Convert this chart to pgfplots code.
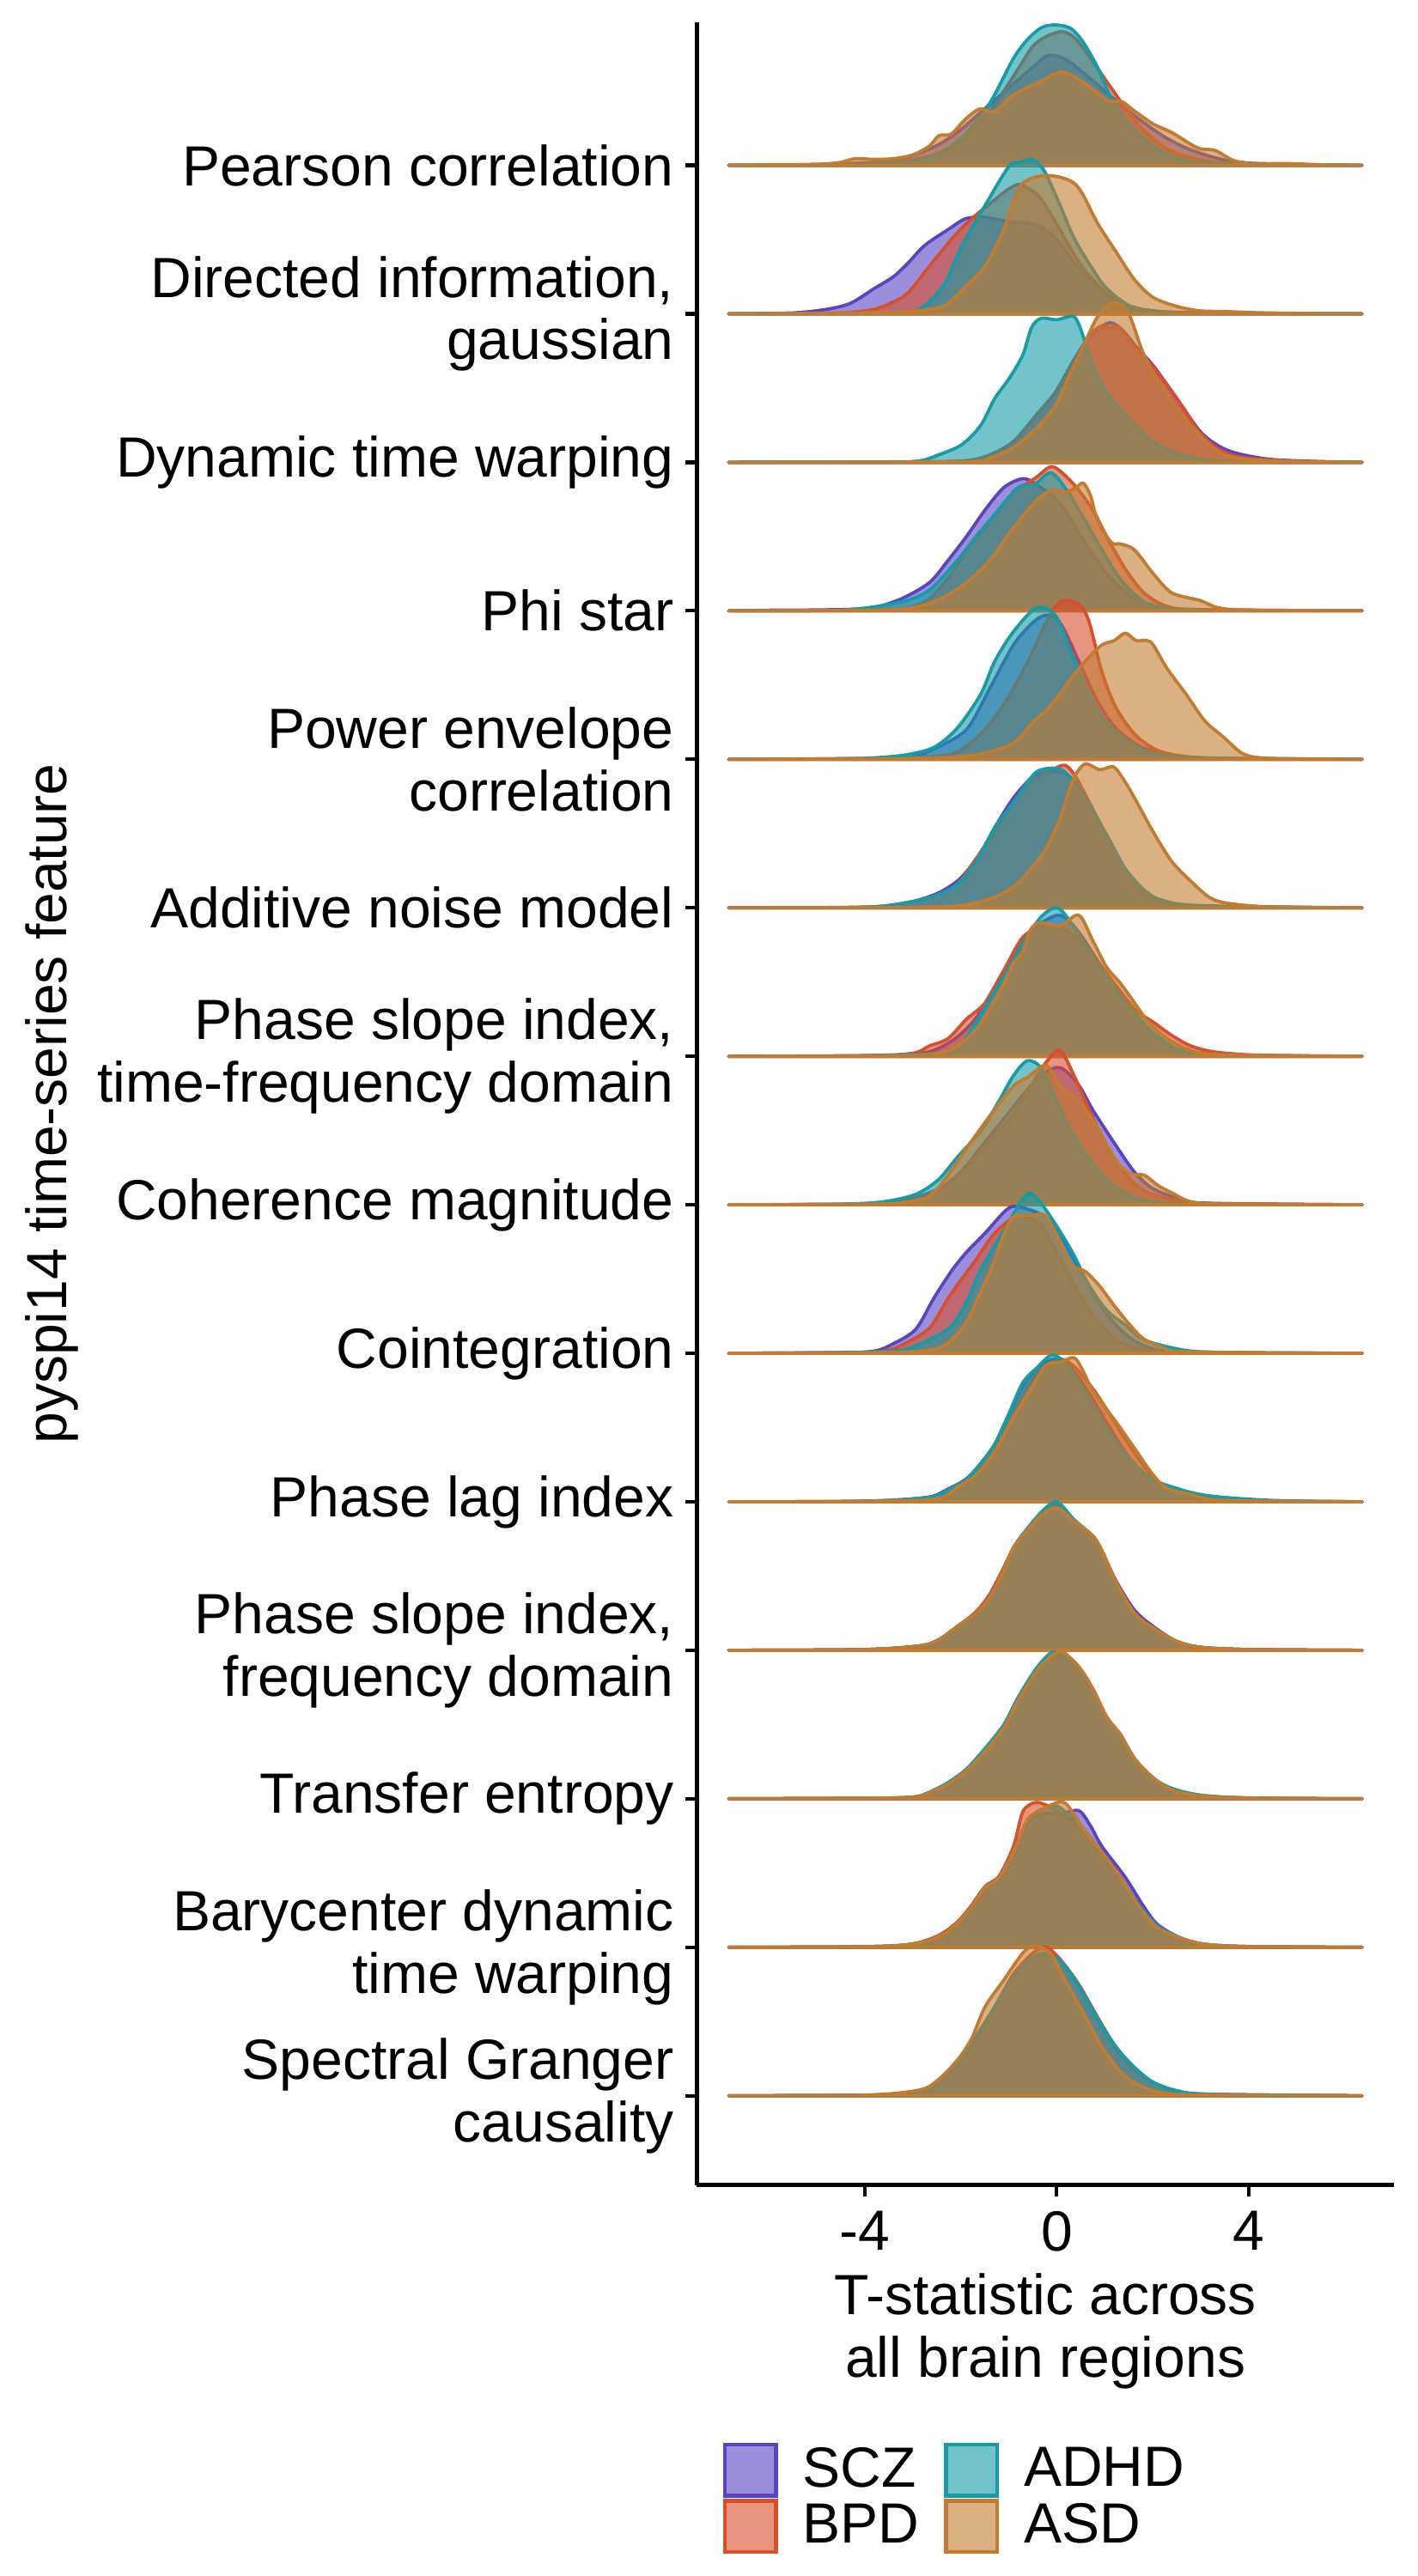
\documentclass[border=0pt]{standalone}
\usepackage{pgfplots}
\pgfplotsset{compat=1.18}
\usepackage{fontspec}
\setmainfont{Liberation Sans}
\definecolor{scz}{RGB}{88,68,197}
\definecolor{bpd}{RGB}{217,78,43}
\definecolor{adhd}{RGB}{20,157,167}
\definecolor{asd}{RGB}{195,123,48}
\newcommand{\lab}{\fontsize{13.2}{14.5}\selectfont}
\pgfplotsset{ridge/.style={draw=#1, fill=#1, fill opacity=0.6, draw opacity=1, line width=0.75pt, line join=round, line cap=round, smooth, tension=0.5, forget plot}}
\newcommand{\R}[3]{\addplot[ridge=#1, y filter/.expression={y+#2}] coordinates {#3} -- cycle;}
\begin{document}
\begin{tikzpicture}
\path[use as bounding box] (-162.3pt,-91.1pt) rectangle (167.7pt,508.9pt);
\begin{axis}[
  at={(0,0)}, anchor=south west,
  scale only axis, width=162.3pt, height=503.6pt,
  xmin=-7.49, xmax=7.02, ymin=0.4, ymax=14.96,
  clip=false,
  axis x line*=bottom, axis y line*=left,
  axis line style={line width=0.85pt, black},
  every tick/.style={black, line width=0.85pt},
  tick align=outside, major tick length=2.6pt,
  xtick={-4,0,4}, xticklabels={-4,0,4},
  ytick={1,2,3,4,5,6,7,8,9,10,11,12,13,14},
  yticklabels={{Spectral Granger\\causality},{Barycenter dynamic\\time warping},{Transfer entropy},{Phase slope index,\\frequency domain},{Phase lag index},{Cointegration},{Coherence magnitude},{Phase slope index,\\time-frequency domain},{Additive noise model},{Power envelope\\correlation},{Phi star},{Dynamic time warping},{Directed information,\\gaussian},{Pearson correlation}},
  yticklabel style={align=right, font=\lab, inner sep=0pt, xshift=-2.6pt},
  xticklabel style={font=\lab, inner sep=0pt, yshift=-3.3pt},
  xlabel={T-statistic across\\all brain regions},
  xlabel style={at={(axis description cs:0.5,-0.0677)}, anchor=center, align=center, font=\lab},
  ylabel={pyspi14 time-series feature},
  ylabel style={at={(axis description cs:-0.925,0.5)}, anchor=center, font=\lab},
  legend columns=2, transpose legend,
  legend style={at={(axis description cs:0.0376,-0.1193)}, anchor=north west, draw=none, fill=none, inner sep=0pt, outer sep=0pt, font=\lab, row sep=0.35pt, nodes={inner sep=0pt}, /tikz/every odd column/.append style={column sep=5.8pt}, /tikz/every even column/.append style={column sep=5.8pt}},
  legend cell align=left,
  legend image code/.code={\draw[#1, line width=0.85pt] (0pt,-5.95pt) rectangle (11.9pt,5.95pt);},
]
% ---------- Row 14: Pearson correlation
\R{scz}{14}{(-6.83,0) (-5.5,0.003) (-4.5,0.01) (-3.8,0.02) (-3.3,0.04) (-2.8,0.09) (-2.4,0.15) (-2.0,0.24) (-1.5,0.38) (-1.0,0.52) (-0.5,0.66) (-0.17,0.74) (0.2,0.71) (0.6,0.61) (1.0,0.50) (1.4,0.39) (1.8,0.29) (2.2,0.2) (2.6,0.13) (3.0,0.08) (3.5,0.035) (4.0,0.015) (4.5,0.01) (5.0,0.006) (5.5,0.003) (6.36,0)}
\R{bpd}{14}{(-6.83,0) (-5,0.003) (-4,0.01) (-3.3,0.025) (-2.8,0.05) (-2.4,0.09) (-1.9,0.19) (-1.4,0.36) (-0.9,0.60) (-0.5,0.80) (-0.2,0.87) (0.12,0.90) (0.4,0.85) (0.75,0.70) (1.05,0.56) (1.4,0.40) (1.8,0.24) (2.3,0.11) (2.8,0.05) (3.5,0.015) (4.5,0.004) (6.36,0)}
\R{adhd}{14}{(-6.83,0) (-5,0.002) (-4.3,0.005) (-3.3,0.02) (-2.85,0.04) (-2.36,0.09) (-1.88,0.22) (-1.39,0.42) (-0.9,0.72) (-0.6,0.85) (-0.3,0.93) (0.0,0.945) (0.3,0.92) (0.55,0.83) (0.85,0.66) (1.14,0.45) (1.5,0.28) (2.0,0.13) (2.5,0.05) (3.0,0.02) (4.0,0.006) (5.0,0.003) (6.36,0)}
\R{asd}{14}{(-6.83,0) (-6.0,0.004) (-5.0,0.006) (-4.5,0.02) (-4.2,0.045) (-3.8,0.04) (-3.4,0.045) (-3.0,0.07) (-2.65,0.13) (-2.45,0.2) (-2.2,0.21) (-1.9,0.31) (-1.6,0.38) (-1.3,0.36) (-1.0,0.45) (-0.7,0.51) (-0.3,0.57) (0.1,0.63) (0.5,0.57) (0.8,0.50) (1.1,0.43) (1.35,0.43) (1.6,0.37) (2.0,0.28) (2.4,0.22) (2.8,0.14) (3.0,0.11) (3.3,0.10) (3.7,0.03) (4.2,0.008) (4.6,0.012) (5.0,0.01) (5.5,0.003) (6.36,0)}
% ---------- Row 13: Directed information
\R{scz}{13}{(-6.83,0) (-5.5,0.006) (-4.8,0.03) (-4.3,0.07) (-3.8,0.17) (-3.4,0.25) (-3.1,0.34) (-2.75,0.46) (-2.25,0.57) (-1.9,0.64) (-1.5,0.65) (-1.0,0.62) (-0.6,0.61) (-0.3,0.58) (0.05,0.48) (0.5,0.29) (1.0,0.14) (1.5,0.05) (2.0,0.02) (3.0,0.005) (6.36,0)}
\R{bpd}{13}{(-6.83,0) (-5,0.003) (-4.3,0.01) (-3.8,0.03) (-3.4,0.08) (-3.1,0.14) (-2.7,0.3) (-2.3,0.46) (-2.0,0.57) (-1.7,0.66) (-1.4,0.74) (-1.0,0.84) (-0.76,0.87) (-0.4,0.80) (-0.1,0.66) (0.2,0.49) (0.5,0.33) (0.9,0.18) (1.3,0.08) (1.8,0.03) (2.5,0.01) (6.36,0)}
\R{adhd}{13}{(-6.83,0) (-4,0.004) (-3.3,0.012) (-2.85,0.03) (-2.36,0.19) (-1.97,0.46) (-1.49,0.73) (-1.0,0.99) (-0.75,1.02) (-0.52,1.04) (-0.35,1.0) (-0.22,0.94) (0.07,0.73) (0.36,0.51) (0.75,0.30) (1.04,0.17) (1.53,0.05) (2.0,0.015) (3.0,0.004) (6.36,0)}
\R{asd}{13}{(-6.83,0) (-5,0.004) (-3.5,0.01) (-2.9,0.02) (-2.46,0.04) (-2.26,0.07) (-1.88,0.19) (-1.49,0.32) (-1.1,0.57) (-0.9,0.76) (-0.71,0.88) (-0.32,0.93) (0.07,0.92) (0.36,0.88) (0.55,0.80) (0.85,0.61) (1.23,0.42) (1.62,0.23) (2.01,0.11) (2.5,0.05) (2.98,0.02) (3.5,0.015) (4.5,0.005) (6.36,0)}
% ---------- Row 12: Dynamic time warping
\R{scz}{12}{(-6.83,0) (-3,0.003) (-1.9,0.01) (-1.39,0.05) (-0.9,0.14) (-0.42,0.32) (-0.03,0.47) (0.36,0.69) (0.7,0.85) (1.1,0.94) (1.4,0.88) (1.62,0.79) (2.01,0.65) (2.5,0.43) (2.98,0.21) (3.37,0.11) (3.76,0.06) (4.44,0.02) (5.4,0.006) (6.36,0)}
\R{bpd}{12}{(-6.83,0) (-3,0.003) (-1.9,0.01) (-1.39,0.05) (-0.9,0.14) (-0.42,0.32) (-0.03,0.47) (0.36,0.69) (0.7,0.86) (0.95,0.92) (1.12,0.90) (1.3,0.91) (1.62,0.78) (2.01,0.64) (2.5,0.43) (2.98,0.20) (3.37,0.09) (3.76,0.04) (4.44,0.015) (5.4,0.004) (6.36,0)}
\R{adhd}{12}{(-6.83,0) (-3.5,0.003) (-2.85,0.01) (-2.46,0.05) (-1.97,0.12) (-1.58,0.25) (-1.29,0.43) (-1.0,0.56) (-0.71,0.72) (-0.52,0.91) (-0.32,0.97) (0.0,0.96) (0.36,0.98) (0.55,0.85) (0.75,0.65) (1.04,0.47) (1.43,0.32) (1.91,0.16) (2.40,0.07) (2.98,0.02) (4.0,0.004) (6.36,0)}
\R{asd}{12}{(-6.83,0) (-2,0.004) (-1.39,0.03) (-0.9,0.10) (-0.42,0.23) (-0.03,0.38) (0.26,0.58) (0.55,0.78) (0.85,0.98) (1.14,1.07) (1.35,1.06) (1.53,0.98) (1.77,0.76) (2.01,0.60) (2.40,0.41) (2.79,0.25) (3.18,0.12) (3.5,0.05) (4.0,0.02) (5.0,0.005) (6.36,0)}
% ---------- Row 11: Phi star
\R{scz}{11}{(-6.83,0) (-6.0,0.004) (-5.0,0.006) (-4.3,0.01) (-3.82,0.02) (-3.24,0.08) (-2.65,0.19) (-2.26,0.34) (-1.88,0.50) (-1.49,0.68) (-1.1,0.83) (-0.71,0.89) (-0.42,0.85) (0.07,0.72) (0.55,0.48) (1.04,0.25) (1.53,0.10) (2.01,0.03) (2.5,0.01) (3.5,0.004) (6.36,0)}
\R{bpd}{11}{(-6.83,0) (-4,0.004) (-3.1,0.02) (-2.65,0.08) (-2.26,0.22) (-1.88,0.40) (-1.39,0.60) (-0.9,0.79) (-0.42,0.90) (-0.08,0.97) (0.36,0.85) (0.75,0.68) (1.04,0.50) (1.43,0.28) (1.82,0.12) (2.3,0.03) (3.0,0.008) (6.36,0)}
\R{adhd}{11}{(-6.83,0) (-4.5,0.004) (-3.24,0.06) (-2.65,0.14) (-2.07,0.34) (-1.68,0.50) (-1.29,0.65) (-0.81,0.83) (-0.47,0.85) (-0.13,0.93) (0.17,0.83) (0.55,0.63) (0.94,0.41) (1.33,0.21) (1.82,0.06) (2.4,0.015) (3.5,0.004) (6.36,0)}
\R{asd}{11}{(-6.83,0) (-4,0.004) (-3.3,0.01) (-2.85,0.03) (-2.36,0.09) (-1.88,0.19) (-1.39,0.34) (-0.9,0.56) (-0.4,0.75) (-0.1,0.81) (0.2,0.80) (0.4,0.83) (0.55,0.86) (0.7,0.78) (0.85,0.61) (1.14,0.46) (1.33,0.45) (1.62,0.41) (2.01,0.25) (2.40,0.12) (2.98,0.07) (3.37,0.02) (4.0,0.005) (6.36,0)}
% ---------- Row 10: Power envelope correlation
\R{scz}{10}{(-6.83,0) (-4,0.005) (-3.0,0.02) (-2.56,0.07) (-1.88,0.2) (-1.39,0.48) (-0.9,0.77) (-0.5,0.92) (-0.22,0.97) (0.07,0.92) (0.46,0.66) (0.85,0.39) (1.23,0.21) (1.72,0.09) (2.3,0.03) (3.0,0.008) (6.36,0)}
\R{bpd}{10}{(-6.83,0) (-4,0.004) (-2.5,0.02) (-2.07,0.05) (-1.58,0.17) (-1.1,0.37) (-0.6,0.66) (-0.25,0.9) (-0.03,1.03) (0.21,1.07) (0.5,1.03) (0.68,0.92) (0.94,0.59) (1.23,0.35) (1.62,0.17) (2.1,0.06) (2.8,0.015) (4,0.003) (6.36,0)}
\R{adhd}{10}{(-6.83,0) (-4.5,0.004) (-3.8,0.01) (-3.14,0.03) (-2.56,0.08) (-2.07,0.21) (-1.58,0.44) (-1.29,0.66) (-0.9,0.86) (-0.42,1.02) (-0.03,0.97) (0.26,0.75) (0.55,0.52) (0.94,0.28) (1.43,0.13) (2.01,0.04) (3.0,0.01) (6.36,0)}
\R{asd}{10}{(-6.83,0) (-3.5,0.004) (-2.5,0.01) (-1.68,0.03) (-1.1,0.08) (-0.81,0.13) (-0.52,0.24) (-0.22,0.33) (0.07,0.44) (0.36,0.57) (0.65,0.68) (0.94,0.77) (1.2,0.8) (1.43,0.85) (1.65,0.80) (1.87,0.80) (2.01,0.77) (2.3,0.61) (2.69,0.44) (3.08,0.26) (3.47,0.15) (3.86,0.04) (4.25,0.01) (5,0.003) (6.36,0)}
% ---------- Row 9: Additive noise model
\R{scz}{9}{(-6.83,0) (-4,0.004) (-3.3,0.02) (-2.8,0.06) (-2.4,0.11) (-2.0,0.2) (-1.6,0.36) (-1.29,0.54) (-0.9,0.74) (-0.5,0.88) (-0.1,0.92) (0.2,0.9) (0.55,0.78) (0.85,0.60) (1.14,0.43) (1.43,0.26) (1.82,0.11) (2.2,0.05) (3,0.01) (6.36,0)}
\R{bpd}{9}{(-6.83,0) (-4,0.004) (-3.04,0.04) (-2.46,0.09) (-2.07,0.16) (-1.68,0.33) (-1.29,0.52) (-0.9,0.71) (-0.5,0.86) (-0.1,0.93) (0.17,0.96) (0.36,0.90) (0.55,0.79) (0.85,0.60) (1.14,0.42) (1.5,0.22) (1.82,0.10) (2.2,0.04) (3,0.01) (6.36,0)}
\R{adhd}{9}{(-6.83,0) (-4,0.004) (-3.04,0.04) (-2.46,0.09) (-2.07,0.16) (-1.68,0.31) (-1.29,0.54) (-0.9,0.71) (-0.6,0.85) (-0.4,0.92) (-0.13,0.94) (0.1,0.93) (0.3,0.87) (0.55,0.77) (0.85,0.60) (1.14,0.43) (1.43,0.26) (1.82,0.12) (2.2,0.05) (3.0,0.015) (6.36,0)}
\R{asd}{9}{(-6.83,0) (-3,0.004) (-2.0,0.015) (-1.39,0.06) (-0.9,0.14) (-0.52,0.27) (-0.22,0.40) (0.07,0.60) (0.25,0.78) (0.4,0.9) (0.6,0.97) (0.9,0.93) (1.18,0.95) (1.4,0.86) (1.62,0.74) (2.01,0.51) (2.4,0.31) (2.79,0.18) (3.18,0.07) (3.57,0.03) (4.5,0.005) (6.36,0)}
% ---------- Row 8: Phase slope index, time-frequency
\R{scz}{8}{(-6.83,0) (-4,0.003) (-2.8,0.02) (-2.2,0.1) (-1.7,0.25) (-1.2,0.52) (-0.8,0.74) (-0.4,0.88) (0.05,0.95) (0.4,0.86) (0.9,0.62) (1.4,0.38) (1.8,0.22) (2.3,0.08) (2.8,0.03) (4,0.005) (6.36,0)}
\R{bpd}{8}{(-6.83,0) (-4,0.005) (-3.0,0.02) (-2.65,0.07) (-2.26,0.12) (-1.88,0.25) (-1.49,0.36) (-1.1,0.58) (-0.71,0.80) (-0.32,0.87) (0.07,0.87) (0.55,0.76) (1.04,0.56) (1.62,0.32) (2.01,0.23) (2.4,0.14) (2.79,0.07) (3.27,0.03) (4.0,0.01) (5,0.004) (6.36,0)}
\R{adhd}{8}{(-6.83,0) (-4,0.003) (-2.5,0.02) (-2.07,0.05) (-1.68,0.23) (-1.1,0.54) (-0.71,0.76) (-0.32,0.94) (0.02,1.0) (0.36,0.87) (0.75,0.67) (1.23,0.45) (1.62,0.29) (2.01,0.16) (2.5,0.05) (3.0,0.015) (4,0.004) (6.36,0)}
\R{asd}{8}{(-6.83,0) (-3.5,0.003) (-2.46,0.02) (-2.07,0.07) (-1.68,0.18) (-1.39,0.32) (-1.1,0.49) (-0.9,0.63) (-0.71,0.70) (-0.55,0.85) (-0.35,0.90) (0.07,0.88) (0.46,0.95) (0.75,0.78) (1.04,0.60) (1.33,0.49) (1.62,0.36) (1.91,0.23) (2.3,0.12) (2.79,0.04) (3.5,0.01) (6.36,0)}
% ---------- Row 7: Coherence magnitude
\R{scz}{7}{(-6.83,0) (-4,0.004) (-3.3,0.02) (-2.5,0.1) (-2.0,0.22) (-1.5,0.42) (-1.0,0.62) (-0.6,0.78) (-0.2,0.90) (0.1,0.92) (0.45,0.81) (0.75,0.64) (1.23,0.40) (1.62,0.22) (2.0,0.11) (2.6,0.035) (3.2,0.01) (6.36,0)}
\R{bpd}{7}{(-6.83,0) (-4,0.004) (-3.5,0.015) (-2.9,0.05) (-2.36,0.12) (-1.88,0.25) (-1.39,0.43) (-0.9,0.61) (-0.52,0.81) (-0.22,0.96) (0.07,1.04) (0.36,0.87) (0.75,0.59) (1.14,0.34) (1.53,0.17) (1.91,0.08) (2.5,0.03) (3.0,0.01) (6.36,0)}
\R{adhd}{7}{(-6.83,0) (-4.5,0.005) (-3.62,0.02) (-2.94,0.07) (-2.46,0.17) (-2.07,0.32) (-1.58,0.50) (-1.2,0.70) (-0.9,0.87) (-0.61,0.97) (-0.32,0.92) (-0.03,0.72) (0.26,0.52) (0.65,0.32) (1.04,0.17) (1.53,0.06) (2.01,0.02) (3,0.005) (6.36,0)}
\R{asd}{7}{(-6.83,0) (-4,0.004) (-3.2,0.015) (-2.65,0.06) (-2.26,0.2) (-1.88,0.38) (-1.39,0.60) (-0.9,0.80) (-0.6,0.86) (-0.22,0.94) (0.07,0.80) (0.46,0.70) (0.85,0.52) (1.23,0.30) (1.53,0.21) (1.82,0.20) (2.11,0.13) (2.4,0.08) (2.8,0.02) (3.5,0.005) (6.36,0)}
% ---------- Row 6: Cointegration
\R{scz}{6}{(-6.83,0) (-4.5,0.005) (-3.8,0.015) (-3.43,0.06) (-2.94,0.16) (-2.56,0.37) (-2.2,0.55) (-1.88,0.68) (-1.49,0.81) (-1.1,0.95) (-0.9,0.99) (-0.6,0.97) (-0.3,0.93) (0.0,0.84) (0.5,0.55) (1.0,0.28) (1.5,0.11) (2.0,0.03) (2.5,0.01) (3.5,0.006) (4.5,0.002) (6.36,0)}
\R{bpd}{6}{(-6.83,0) (-4.5,0.004) (-3.6,0.015) (-3.14,0.07) (-2.65,0.17) (-2.3,0.35) (-2.07,0.46) (-1.68,0.63) (-1.29,0.81) (-0.81,0.93) (-0.5,0.90) (-0.3,0.85) (0.2,0.56) (0.7,0.28) (1.2,0.10) (1.7,0.03) (2.5,0.007) (6.36,0)}
\R{adhd}{6}{(-6.83,0) (-4.5,0.004) (-3.6,0.012) (-3.1,0.03) (-2.6,0.10) (-2.2,0.18) (-1.9,0.33) (-1.6,0.55) (-1.3,0.72) (-1.0,0.88) (-0.75,1.02) (-0.56,1.08) (-0.35,1.02) (-0.15,0.93) (0.07,0.82) (0.36,0.66) (0.65,0.47) (1.04,0.29) (1.43,0.19) (1.82,0.09) (2.5,0.03) (3.0,0.01) (4,0.003) (6.36,0)}
\R{asd}{6}{(-6.83,0) (-4,0.004) (-2.8,0.015) (-2.3,0.06) (-1.9,0.2) (-1.6,0.40) (-1.3,0.62) (-1.1,0.80) (-0.9,0.92) (-0.5,0.93) (-0.25,0.93) (0.0,0.80) (0.3,0.60) (0.6,0.55) (0.9,0.45) (1.2,0.32) (1.5,0.20) (1.8,0.10) (2.2,0.04) (2.7,0.01) (6.36,0)}
% ---------- Row 5: Phase lag index
\R{scz}{5}{(-6.83,0) (-4,0.004) (-2.7,0.03) (-2.3,0.08) (-1.9,0.15) (-1.6,0.25) (-1.3,0.38) (-1.0,0.58) (-0.7,0.78) (-0.4,0.9) (-0.05,0.96) (0.3,0.9) (0.7,0.72) (1.1,0.5) (1.55,0.28) (2.0,0.15) (2.5,0.08) (3.0,0.04) (3.5,0.02) (4.5,0.005) (6.36,0)}
\R{bpd}{5}{(-6.83,0) (-4,0.004) (-2.6,0.03) (-2.2,0.08) (-1.8,0.15) (-1.5,0.26) (-1.2,0.4) (-0.9,0.59) (-0.6,0.78) (-0.3,0.9) (0.1,0.96) (0.4,0.9) (0.8,0.74) (1.2,0.54) (1.6,0.34) (2.0,0.17) (2.4,0.08) (2.9,0.04) (3.5,0.015) (4.5,0.004) (6.36,0)}
\R{adhd}{5}{(-6.83,0) (-4,0.003) (-2.65,0.03) (-2.26,0.08) (-1.88,0.15) (-1.58,0.26) (-1.29,0.39) (-1.0,0.59) (-0.71,0.80) (-0.42,0.90) (-0.08,0.99) (0.26,0.90) (0.65,0.70) (1.04,0.49) (1.53,0.28) (2.01,0.15) (2.5,0.09) (2.98,0.05) (3.47,0.03) (4.44,0.01) (5.5,0.003) (6.36,0)}
\R{asd}{5}{(-6.83,0) (-4,0.003) (-2.5,0.02) (-2.07,0.10) (-1.68,0.18) (-1.29,0.34) (-0.9,0.57) (-0.52,0.77) (-0.22,0.92) (0.07,0.94) (0.36,0.97) (0.55,0.88) (0.75,0.75) (1.23,0.54) (1.62,0.36) (2.01,0.18) (2.3,0.09) (2.79,0.05) (3.47,0.01) (6.36,0)}
% ---------- Row 4: Phase slope index, frequency domain
\R{scz}{4}{(-6.83,0) (-4,0.005) (-2.85,0.03) (-2.46,0.07) (-2.07,0.16) (-1.68,0.25) (-1.39,0.36) (-1.1,0.54) (-0.9,0.69) (-0.71,0.77) (-0.32,0.91) (0.0,0.97) (0.36,0.87) (0.75,0.77) (0.94,0.67) (1.23,0.47) (1.62,0.27) (2.01,0.16) (2.5,0.06) (3.0,0.02) (4,0.005) (6.36,0)}
\R{bpd}{4}{(-6.83,0) (-4,0.005) (-2.85,0.03) (-2.46,0.07) (-2.07,0.16) (-1.68,0.26) (-1.39,0.38) (-1.1,0.56) (-0.9,0.69) (-0.71,0.77) (-0.32,0.92) (0.0,0.98) (0.36,0.87) (0.75,0.77) (0.94,0.67) (1.23,0.46) (1.62,0.25) (2.01,0.15) (2.5,0.06) (3.0,0.02) (4,0.005) (6.36,0)}
\R{adhd}{4}{(-6.83,0) (-4,0.005) (-2.85,0.03) (-2.46,0.07) (-2.07,0.16) (-1.68,0.25) (-1.39,0.36) (-1.1,0.54) (-0.9,0.69) (-0.71,0.78) (-0.32,0.93) (0.0,1.0) (0.36,0.88) (0.75,0.77) (0.94,0.67) (1.23,0.46) (1.62,0.25) (2.01,0.15) (2.5,0.06) (3.0,0.02) (4,0.005) (6.36,0)}
\R{asd}{4}{(-6.83,0) (-4,0.005) (-2.85,0.03) (-2.46,0.07) (-2.07,0.16) (-1.68,0.25) (-1.39,0.36) (-1.1,0.54) (-0.9,0.69) (-0.71,0.77) (-0.32,0.91) (0.0,0.96) (0.36,0.87) (0.75,0.77) (0.94,0.67) (1.23,0.46) (1.62,0.25) (2.01,0.15) (2.5,0.06) (3.0,0.02) (4,0.005) (6.36,0)}
% ---------- Row 3: Transfer entropy
\R{scz}{3}{(-6.83,0) (-4,0.004) (-3.0,0.01) (-2.65,0.04) (-2.26,0.10) (-1.88,0.19) (-1.49,0.32) (-1.1,0.48) (-0.81,0.66) (-0.42,0.86) (0.0,0.96) (0.46,0.88) (0.75,0.74) (1.04,0.55) (1.33,0.43) (1.62,0.27) (2.01,0.14) (2.4,0.06) (3.0,0.02) (4,0.005) (6.36,0)}
\R{bpd}{3}{(-6.83,0) (-4,0.004) (-3.0,0.01) (-2.65,0.04) (-2.26,0.10) (-1.88,0.19) (-1.49,0.32) (-1.1,0.49) (-0.81,0.66) (-0.42,0.86) (0.0,0.96) (0.46,0.88) (0.75,0.74) (1.04,0.55) (1.33,0.43) (1.62,0.27) (2.01,0.14) (2.4,0.06) (3.0,0.02) (4,0.005) (6.36,0)}
\R{adhd}{3}{(-6.83,0) (-4,0.004) (-3.0,0.012) (-2.65,0.045) (-2.26,0.11) (-1.88,0.20) (-1.49,0.34) (-1.1,0.50) (-0.81,0.68) (-0.42,0.88) (-0.08,0.99) (0.2,0.95) (0.46,0.88) (0.75,0.73) (1.04,0.55) (1.33,0.43) (1.62,0.27) (2.01,0.14) (2.4,0.07) (3.0,0.025) (4,0.006) (6.36,0)}
\R{asd}{3}{(-6.83,0) (-4,0.004) (-3.0,0.01) (-2.65,0.04) (-2.26,0.10) (-1.88,0.19) (-1.49,0.32) (-1.1,0.48) (-0.81,0.66) (-0.42,0.86) (-0.08,0.97) (0.12,0.99) (0.46,0.89) (0.75,0.74) (1.04,0.55) (1.33,0.43) (1.62,0.27) (2.01,0.14) (2.4,0.06) (3.0,0.02) (4,0.005) (6.36,0)}
% ---------- Row 2: Barycenter dynamic time warping
\R{scz}{2}{(-6.83,0) (-4,0.004) (-3.04,0.02) (-2.46,0.07) (-2.07,0.15) (-1.78,0.26) (-1.49,0.39) (-1.2,0.46) (-0.9,0.62) (-0.61,0.84) (-0.3,0.9) (0.1,0.9) (0.46,0.92) (0.7,0.82) (0.94,0.68) (1.43,0.47) (1.82,0.27) (2.11,0.15) (2.6,0.06) (3.1,0.02) (4,0.005) (6.36,0)}
\R{bpd}{2}{(-6.83,0) (-4,0.004) (-3.04,0.02) (-2.46,0.08) (-2.07,0.17) (-1.78,0.28) (-1.49,0.41) (-1.2,0.48) (-0.9,0.68) (-0.71,0.91) (-0.5,0.97) (-0.32,0.97) (0.0,0.92) (0.3,0.85) (0.55,0.78) (0.94,0.62) (1.33,0.46) (1.72,0.27) (2.11,0.13) (2.6,0.05) (3.1,0.015) (4,0.004) (6.36,0)}
\R{adhd}{2}{(-6.83,0) (-4,0.004) (-3.04,0.02) (-2.46,0.07) (-2.07,0.16) (-1.78,0.27) (-1.49,0.40) (-1.2,0.47) (-0.9,0.64) (-0.61,0.85) (-0.3,0.93) (0.0,0.95) (0.3,0.88) (0.55,0.80) (0.94,0.64) (1.33,0.47) (1.72,0.28) (2.11,0.14) (2.6,0.06) (3.1,0.02) (4,0.005) (6.36,0)}
\R{asd}{2}{(-6.83,0) (-4,0.004) (-3.04,0.02) (-2.46,0.07) (-2.07,0.16) (-1.78,0.27) (-1.49,0.40) (-1.2,0.47) (-0.9,0.64) (-0.61,0.86) (-0.3,0.93) (0.12,0.98) (0.35,0.90) (0.55,0.80) (0.94,0.64) (1.33,0.47) (1.72,0.27) (2.11,0.13) (2.6,0.06) (3.1,0.02) (4,0.005) (6.36,0)}
% ---------- Row 1: Spectral Granger causality
\R{scz}{1}{(-6.83,0) (-4,0.004) (-2.85,0.02) (-2.46,0.09) (-2.07,0.21) (-1.68,0.39) (-1.29,0.59) (-0.9,0.81) (-0.5,0.93) (-0.2,0.95) (0.07,0.91) (0.46,0.74) (0.85,0.52) (1.23,0.32) (1.62,0.18) (2.01,0.09) (2.5,0.03) (3.2,0.01) (6.36,0)}
\R{bpd}{1}{(-6.83,0) (-4,0.004) (-2.85,0.02) (-2.46,0.10) (-2.07,0.22) (-1.68,0.40) (-1.29,0.60) (-0.9,0.82) (-0.5,0.96) (-0.22,1.0) (0.07,0.92) (0.46,0.75) (0.85,0.53) (1.23,0.33) (1.62,0.19) (2.01,0.09) (2.5,0.03) (3.2,0.01) (6.36,0)}
\R{adhd}{1}{(-6.83,0) (-4,0.004) (-2.85,0.025) (-2.46,0.10) (-2.07,0.22) (-1.68,0.40) (-1.29,0.60) (-0.9,0.80) (-0.55,0.92) (-0.27,0.96) (0.07,0.91) (0.46,0.74) (0.85,0.52) (1.23,0.33) (1.62,0.19) (2.01,0.09) (2.5,0.035) (3.2,0.01) (6.36,0)}
\R{asd}{1}{(-6.83,0) (-4,0.004) (-2.85,0.04) (-2.46,0.11) (-2.07,0.24) (-1.78,0.38) (-1.49,0.60) (-1.1,0.78) (-0.71,0.96) (-0.47,1.01) (-0.13,0.96) (0.17,0.78) (0.55,0.56) (0.94,0.33) (1.33,0.16) (1.72,0.07) (2.2,0.02) (3.0,0.005) (6.36,0)}
% ---------- legend
\addlegendimage{draw=scz, fill=scz, fill opacity=0.6}
\addlegendentry{SCZ}
\addlegendimage{draw=bpd, fill=bpd, fill opacity=0.6}
\addlegendentry{BPD}
\addlegendimage{draw=adhd, fill=adhd, fill opacity=0.6}
\addlegendentry{ADHD}
\addlegendimage{draw=asd, fill=asd, fill opacity=0.6}
\addlegendentry{ASD}
\end{axis}
\end{tikzpicture}
\end{document}
